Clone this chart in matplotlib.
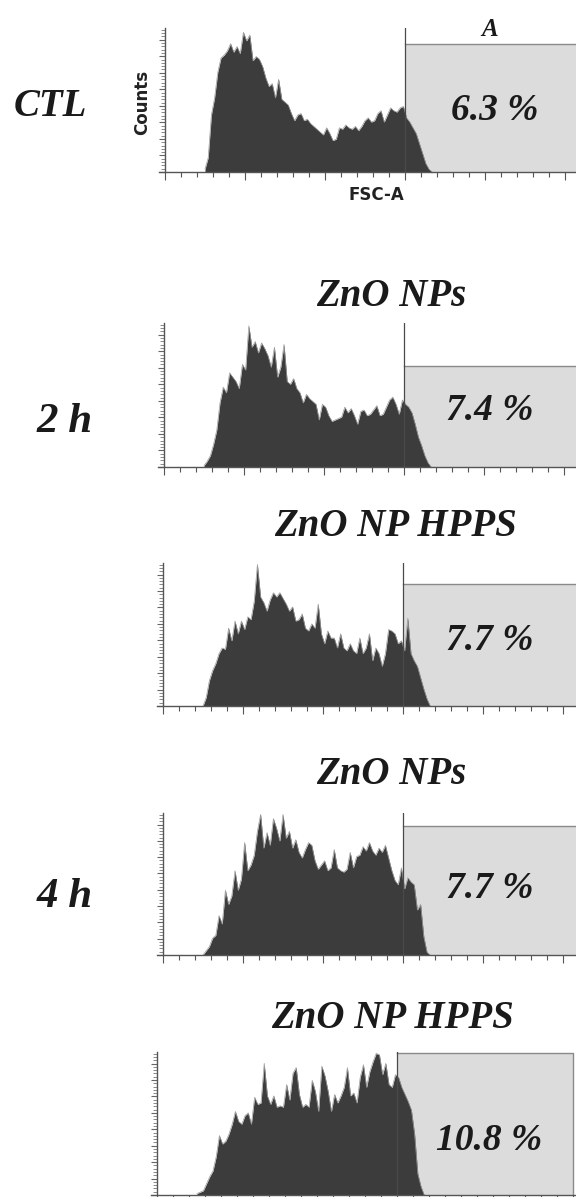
import numpy as np
import matplotlib
matplotlib.use('Agg')
import matplotlib.pyplot as plt
from matplotlib.ticker import MultipleLocator

W, H = 576, 1197

# FSC-A histograms, counts in % of full scale, channels 25..167 every 2
ctl = [2, 10, 40, 52, 70, 80, 82, 85, 90, 84, 88, 83, 98, 92, 96, 78, 81, 79,
       74, 66, 60, 62, 52, 65, 51, 49, 47, 41, 36, 40, 41, 36, 37, 34, 32, 30,
       28, 26, 31, 27, 22, 23, 31, 30, 33, 31, 30, 32, 29, 32, 36, 38, 35, 36,
       41, 43, 35, 40, 45, 43, 42, 45, 46, 38, 35, 31, 27, 20, 13, 6, 2, 0]
np_2h = [1, 4, 8, 16, 26, 45, 56, 52, 66, 63, 60, 55, 72, 68, 99, 84, 88, 80,
         87, 83, 78, 70, 84, 63, 70, 86, 60, 58, 62, 55, 52, 45, 51, 48, 46, 44,
         33, 44, 42, 36, 32, 33, 34, 35, 42, 38, 41, 36, 30, 39, 40, 36, 37, 40,
         43, 36, 37, 42, 47, 49, 44, 37, 47, 44, 42, 38, 30, 21, 15, 8, 3, 0]
hpps_2h = [0, 6, 18, 25, 30, 37, 41, 40, 55, 46, 60, 51, 60, 54, 63, 61, 74, 100,
           77, 73, 67, 75, 80, 77, 80, 76, 72, 67, 70, 60, 61, 65, 55, 53, 58, 55,
           72, 51, 44, 53, 48, 48, 41, 51, 41, 39, 44, 39, 37, 48, 37, 41, 51, 32,
           41, 37, 28, 37, 54, 53, 51, 44, 46, 39, 62, 37, 32, 28, 20, 12, 5, 0]
np_4h = [0, 3, 6, 12, 14, 28, 22, 46, 36, 42, 60, 46, 54, 80, 60, 64, 71, 88,
         100, 76, 87, 78, 97, 90, 81, 100, 83, 88, 76, 82, 73, 69, 75, 80, 78, 67,
         61, 64, 67, 60, 62, 75, 62, 60, 59, 61, 73, 62, 70, 71, 77, 74, 80, 74,
         71, 76, 73, 78, 69, 60, 53, 50, 62, 47, 55, 52, 50, 32, 36, 13, 2, 0]
hpps_4h = [1, 2, 3, 8, 13, 17, 27, 42, 36, 38, 43, 50, 59, 52, 50, 56, 58, 50,
           69, 64, 65, 93, 70, 64, 70, 62, 63, 62, 78, 67, 86, 90, 71, 62, 64, 62,
           81, 73, 59, 91, 84, 73, 59, 71, 65, 70, 76, 90, 70, 72, 65, 83, 92, 76,
           87, 94, 100, 99, 85, 93, 78, 76, 85, 83, 76, 71, 66, 60, 43, 15, 6, 0]

series = [ctl, np_2h, hpps_2h, np_4h, hpps_4h]
gate_tops = [89.6, 70.8, 86, 91.5, 100]
percents = ['6.3 %', '7.4 %', '7.7 %', '7.7 %', '10.8 %']
titles = [None, 'ZnO NPs', 'ZnO NP HPPS', 'ZnO NPs', 'ZnO NP HPPS']
gate_x = 150
gate_end = 260

# layout in pixels: y-axis x, axis top, baseline
boxes = [(165, 28, 172), (164, 323, 467), (163, 563, 706), (163, 813, 955), (157, 1052, 1195)]
title_pos = [None, (391, 296), (395, 527), (391, 775), (392, 1019)]
pct_pos = [(495, 110), (490, 411), (490, 641), (490, 888), (489, 1140)]

serif = dict(family='Liberation Serif', weight='bold', style='italic', color='#1a1a1a')
sans = dict(family='DejaVu Sans', weight='bold', color='#222222')

fig = plt.figure(figsize=(W / 100, H / 100), dpi=100)
fig.patch.set_facecolor('white')

PXU = 1.6  # pixels per channel unit
for i, vals in enumerate(series):
    x0, top, bot = boxes[i]
    ax = fig.add_axes([(x0 - 4 * PXU) / W, 1 - bot / H, 266 * PXU / W, (bot - top) / H])
    ax.set_xlim(-4, 262)
    ax.set_ylim(0, 101)
    chan = 25 + 2 * np.arange(len(vals))
    # gate region
    ax.fill_between([gate_x, gate_end], 0, gate_tops[i], color='#dcdcdc', zorder=1, lw=0)
    ax.plot([gate_x, gate_end, gate_end], [gate_tops[i], gate_tops[i], 0], color='#8a8a8a', lw=1, zorder=1.5)
    ax.fill_between(chan, 0, vals, color='#3c3c3c', lw=0, zorder=2)
    ax.plot(chan, vals, color='#9a9a9a', lw=0.5, zorder=2.5)
    ax.plot([gate_x, gate_x], [0, 101], color='#4a4a4a', lw=0.9, zorder=3)

    for s in ['top', 'right']:
        ax.spines[s].set_visible(False)
    ax.spines['left'].set_position(('data', 0))
    for s in ['left', 'bottom']:
        ax.spines[s].set_color('#555555')
        ax.spines[s].set_linewidth(1.0)
    ax.spines['bottom'].set_zorder(4)
    ax.set_facecolor('none')
    ax.xaxis.set_major_locator(MultipleLocator(50))
    ax.xaxis.set_minor_locator(MultipleLocator(10))
    ax.yaxis.set_major_locator(MultipleLocator(11.6))
    ax.yaxis.set_minor_locator(MultipleLocator(2.32))
    ax.tick_params(axis='x', which='major', direction='out', length=6, width=0.8, color='#555555')
    ax.tick_params(axis='x', which='minor', direction='out', length=3.5, width=0.8, color='#555555')
    ax.tick_params(axis='y', which='major', direction='out', length=4, width=0.8, color='#666666')
    ax.tick_params(axis='y', which='minor', direction='out', length=3, width=0.6, color='#777777')
    ax.tick_params(labelbottom=False, labelleft=False)

    px, py = pct_pos[i]
    fig.text(px / W, 1 - py / H, percents[i], ha='center', va='center', fontsize=27, **serif)
    if titles[i]:
        tx, ty = title_pos[i]
        fig.text(tx / W, 1 - ty / H, titles[i], ha='center', va='center', fontsize=28, **serif)

# left labels and panel 1 extras
fig.text(50 / W, 1 - 107 / H, 'CTL', ha='center', va='center', fontsize=28, **serif)
fig.text(65 / W, 1 - 422 / H, '2 h', ha='center', va='center', fontsize=31, **serif)
fig.text(65 / W, 1 - 897 / H, '4 h', ha='center', va='center', fontsize=31, **serif)
fig.text(490 / W, 1 - 30 / H, 'A', ha='center', va='center', fontsize=18, **serif)
fig.text(142 / W, 1 - 102 / H, 'Counts', ha='center', va='center', rotation=90, fontsize=12, **sans)
fig.text(376 / W, 1 - 195 / H, 'FSC-A', ha='center', va='center', fontsize=12, **sans)

fig.savefig('out.png', dpi=100)
